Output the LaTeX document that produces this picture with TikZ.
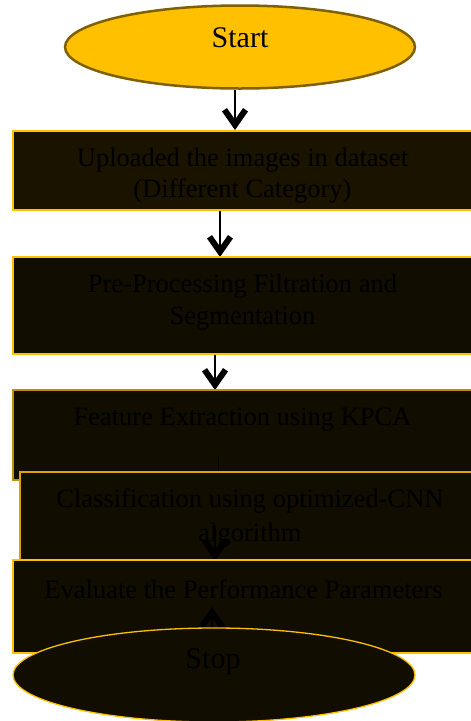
\documentclass[tikz,border=0pt]{standalone}
\usepackage{fontspec}
\setmainfont{Liberation Serif}
\usetikzlibrary{arrows.meta,shapes.geometric}
\definecolor{gold}{HTML}{FFC000}
\definecolor{golddk}{HTML}{BF9000}
\definecolor{olive}{HTML}{7F6000}
\definecolor{boxfill}{RGB}{26,19,0}
\definecolor{boxfilldk}{RGB}{17,13,0}

\begin{document}
\begin{tikzpicture}[x=1pt,y=-1pt,
  >={Straight Barb[length=15pt,width=21pt,line width=6pt]},
  box/.style={rectangle,draw=gold,line width=1.3pt,fill=boxfilldk,inner sep=0pt},
  term/.style={ellipse,line width=1.3pt,inner sep=0pt},
  lbl/.style={text=black,align=center,font=\fontsize{26.5}{31}\selectfont},
  big/.style={text=black,font=\fontsize{30}{34}\selectfont},
  flow/.style={->,line width=1.3pt}]
  \useasboundingbox (0,0) rectangle (471,721);
  \clip (0,0) rectangle (471,721);
  % start
  \node[term,draw=olive,fill=gold,line width=2.5pt,minimum width=350pt,minimum height=83pt] (start) at (240,47) {};
  \node[big] (start-t) at (240,38) {Start};
  \draw[flow] ([xshift=-5pt]start.south) -- (235,130);
  % boxes
  \node[box,fill=boxfill,minimum width=459pt,minimum height=79pt] (upl) at (242.5,170.5) {};
  \node[lbl] (upl-t) at (242.5,176) {Uploaded the images in dataset\\(Different Category)};
  \draw[flow] ([xshift=-22.5pt]upl.south) -- ([xshift=-22.5pt]upl.south |- 0,257);
  \node[box,minimum width=459pt,minimum height=97pt] (pre) at (242.5,305.5) {};
  \node[lbl,font=\fontsize{26.5}{32}\selectfont] (pre-t) at (242.5,302) {Pre-Processing Filtration and\\Segmentation};
  \draw[flow] ([xshift=-27.5pt]pre.south) -- ([xshift=-27.5pt]pre.south |- 0,390);
  \node[box,draw=golddk,minimum width=459pt,minimum height=90pt] (feat) at (242.5,435) {};
  \node[lbl] (feat-t) at (242.5,420) {Feature Extraction using KPCA};
  \coordinate (c1) at (218,456);
  \draw[line width=1pt,black] (c1) -- (218,478);
  \node[box,draw=golddk!60!gold,minimum width=460pt,minimum height=88pt] (cls) at (250,516) {};
  \node[lbl,font=\fontsize{26.5}{34}\selectfont] (cls-t) at (250,518) {Classification using optimized-CNN\\algorithm};
  \coordinate (c2) at (215,525);
  \draw[flow,black] (c2) -- (c2 |- cls.south);
  \node[box,minimum width=459pt,minimum height=93pt] (eval) at (242.5,606.5) {};
  \node[lbl] (eval-t) at (243.5,589) {Evaluate the Performance Parameters};
  \coordinate (c3) at (212,607);
  \draw[flow,black] (212,628) -- (c3);
  % stop
  \node[term,draw=gold,fill=boxfilldk,minimum width=402pt,minimum height=94pt] (stop) at (214,675) {};
  \node[big] (stop-t) at (213,662) {Stop};
\end{tikzpicture}
\end{document}
